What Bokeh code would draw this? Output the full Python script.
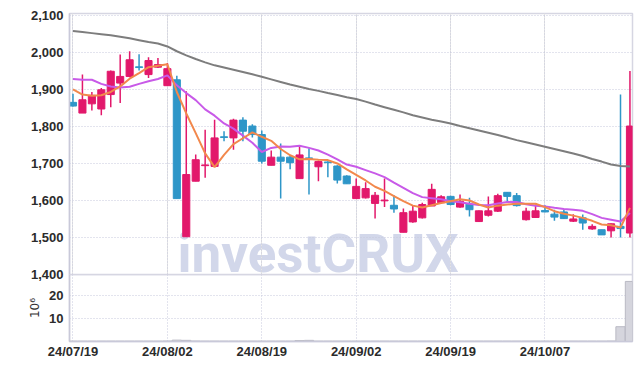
from bokeh.plotting import figure
from bokeh.layouts import column
from bokeh.models import (ColumnDataSource, Range1d, FixedTicker, NumeralTickFormatter,
                          Grid, Label)
from bokeh.embed import file_html
from bokeh.resources import INLINE

# ---------------- data ----------------
opens = [1865, 1836, 1861, 1847, 1886, 1917, 1935, 1961, 1940, 1960,
         1910, 1926, 1502, 1652, 1694, 1692, 1772, 1769, 1817, 1801,
         1778, 1695, 1717, 1717, 1659, 1715, 1691, 1704, 1693, 1666,
         1605, 1607, 1592, 1599, 1587, 1514, 1542, 1553, 1585, 1594,
         1611, 1582, 1590, 1543, 1560, 1571, 1622, 1613, 1548, 1554,
         1573, 1563, 1569, 1544, 1553, 1523, 1521, 1518, 1530, 1512]
highs = [1888, 1940, 1893, 1904, 1951, 1994, 2003, 1995, 1987, 1985,
         1971, 1937, 1895, 1724, 1791, 1818, 1787, 1821, 1825, 1806,
         1789, 1735, 1754, 1722, 1747, 1741, 1708, 1706, 1695, 1668,
         1659, 1649, 1623, 1659, 1614, 1578, 1585, 1594, 1645, 1614,
         1613, 1616, 1607, 1573, 1611, 1618, 1623, 1620, 1580, 1589,
         1587, 1575, 1575, 1563, 1562, 1536, 1521, 1538, 1886, 1950]
lows = [1854, 1836, 1843, 1830, 1852, 1863, 1933, 1951, 1931, 1958,
        1910, 1605, 1502, 1652, 1661, 1692, 1760, 1737, 1760, 1770,
        1700, 1695, 1605, 1684, 1659, 1616, 1652, 1663, 1646, 1645,
        1605, 1605, 1551, 1582, 1567, 1514, 1540, 1551, 1585, 1592,
        1587, 1580, 1557, 1542, 1557, 1569, 1593, 1584, 1546, 1553,
        1568, 1545, 1550, 1542, 1521, 1521, 1507, 1500, 1500, 1500]
closes = [1855, 1872, 1884, 1899, 1949, 1935, 1980, 1959, 1978, 1967,
          1956, 1605, 1670, 1710, 1696, 1769, 1770, 1817, 1787, 1778,
          1706, 1717, 1706, 1702, 1723, 1713, 1705, 1702, 1655, 1645,
          1638, 1632, 1614, 1601, 1577, 1567, 1571, 1589, 1630, 1610,
          1589, 1598, 1575, 1572, 1572, 1613, 1611, 1586, 1571, 1572,
          1569, 1555, 1551, 1550, 1539, 1530, 1507, 1537, 1524, 1801]
ma5 = [1900, 1886, 1883, 1884, 1893, 1908, 1929, 1944, 1960, 1964,
       1968, 1893, 1835, 1782, 1727, 1690, 1723, 1752, 1768, 1784,
       1772, 1761, 1739, 1722, 1711, 1712, 1710, 1709, 1700, 1684,
       1669, 1654, 1637, 1626, 1612, 1598, 1586, 1581, 1587, 1593,
       1598, 1603, 1600, 1589, 1581, 1586, 1589, 1591, 1591, 1591,
       1582, 1571, 1564, 1559, 1553, 1545, 1535, 1533, 1527, 1580]
ma10 = [1928, 1926, 1926, 1915, 1908, 1905, 1907, 1915, 1922, 1928,
        1938, 1911, 1890, 1871, 1846, 1829, 1808, 1794, 1775, 1756,
        1731, 1742, 1746, 1745, 1748, 1742, 1735, 1724, 1711, 1697,
        1691, 1682, 1673, 1663, 1648, 1634, 1620, 1609, 1606, 1603,
        1598, 1595, 1591, 1588, 1587, 1592, 1596, 1596, 1590, 1586,
        1584, 1580, 1577, 1575, 1572, 1563, 1553, 1548, 1543, 1566]
ma_long = [2058, 2055, 2052, 2049, 2046, 2042, 2038, 2033, 2028, 2024,
           2016, 2003, 1992, 1982, 1973, 1965, 1959, 1953, 1947, 1941,
           1934, 1927, 1920, 1913, 1907, 1901, 1896, 1890, 1885, 1879,
           1874, 1867, 1859, 1852, 1845, 1838, 1830, 1824, 1818, 1813,
           1808, 1801, 1795, 1789, 1783, 1777, 1770, 1763, 1757, 1751,
           1745, 1739, 1733, 1727, 1720, 1712, 1705, 1697, 1693, 1692]
volume = [0.15, 0.15, 0.15, 0.15, 0.15, 0.15, 0.15, 0.15, 0.15, 0.15,
          0.2, 0.6, 0.5, 0.2, 0.15, 0.15, 0.15, 0.15, 0.15, 0.15,
          0.15, 0.15, 0.15, 0.15, 0.4, 0.5, 0.15, 0.15, 0.15, 0.15,
          0.15, 0.15, 0.15, 0.15, 0.15, 0.15, 0.15, 0.15, 0.15, 0.15,
          0.15, 0.15, 0.15, 0.15, 0.15, 0.15, 0.15, 0.15, 0.15, 0.15,
          0.15, 0.15, 0.15, 0.15, 0.15, 0.15, 0.15, 0.2, 6.4, 26.0]
tick_idx = [0, 10, 20, 30, 40, 50]
tick_labels = ["24/07/19", "24/08/02", "24/08/19", "24/09/02", "24/09/19", "24/10/07"]
price_ticks = [1400, 1500, 1600, 1700, 1800, 1900, 2000, 2100]
volume_ticks = [10, 20]

# ---------------- styling ----------------
UP = "#e2186b"
DOWN = "#2e96c8"
GRID = "#c6c8dc"
AXIS = "#c9c9d9"
FONT = "Liberation Sans"

idx = list(range(len(closes)))
colors = [UP if c >= o else DOWN for o, c in zip(opens, closes)]
src = ColumnDataSource(dict(
    x=idx, o=opens, h=highs, l=lows, c=closes,
    top=[max(o, c) for o, c in zip(opens, closes)],
    bot=[min(o, c) for o, c in zip(opens, closes)],
    color=colors, ma5=ma5, ma10=ma10, mal=ma_long, vol=volume))

x_range = Range1d(-0.37, 59.27)
W = 634
OVERLAP = 9

# ---------------- price panel ----------------
p = figure(width=W, height=274 + OVERLAP, x_range=x_range, y_range=Range1d(1400, 2105),
           output_backend="svg", toolbar_location=None, x_axis_location=None,
           min_border_left=69, min_border_right=2, min_border_top=13,
           min_border_bottom=OVERLAP,
           background_fill_color="white", border_fill_color="white")
p.outline_line_color = "#d6d6e2"
p.outline_line_width = 1.5
p.yaxis.ticker = FixedTicker(ticks=price_ticks)
p.yaxis.formatter = NumeralTickFormatter(format="0,0")
p.yaxis.major_tick_out = 0
p.yaxis.major_tick_in = 0
p.yaxis.minor_tick_out = 0
p.yaxis.minor_tick_in = 0
p.yaxis.major_label_standoff = 6
p.yaxis.axis_line_color = AXIS
p.yaxis.axis_line_width = 1.5
p.yaxis.major_label_text_font = FONT
p.yaxis.major_label_text_font_style = "bold"
p.yaxis.major_label_text_font_size = "13px"
p.yaxis.major_label_text_color = "#2b2b2b"
p.ygrid.grid_line_color = GRID
p.ygrid.grid_line_dash = "1 2"
p.ygrid.ticker = FixedTicker(ticks=price_ticks)
p.add_layout(Grid(dimension=0, ticker=FixedTicker(ticks=tick_idx),
                  grid_line_color=GRID, grid_line_dash="1 2"))

wm = Label(x=108, y=21, x_units="screen", y_units="screen", text="investCRUX",
           text_font="Roboto", text_font_style="bold", text_font_size="53px",
           text_color="#d2d7ea", text_baseline="alphabetic", level="image")
p.add_layout(wm)

p.segment(x0="x", y0="l", x1="x", y1="h", color="color", line_width=1.5, source=src)
p.vbar(x="x", width=0.75, top="top", bottom="bot", fill_color="color",
       line_color="color", line_width=1, source=src)
p.line("x", "mal", source=src, color="#7d7d7d", line_width=2)
p.line("x", "ma10", source=src, color="#c85ae8", line_width=2)
p.line("x", "ma5", source=src, color="#f2884c", line_width=2)

# ---------------- volume panel ----------------
v = figure(width=W, height=89, x_range=x_range, y_range=Range1d(0, 29),
           output_backend="svg", toolbar_location=None,
           min_border_left=69, min_border_right=2, min_border_top=0, min_border_bottom=22,
           background_fill_alpha=0, border_fill_alpha=0,
           margin=(-OVERLAP, 0, 0, 0))
v.outline_line_color = "#d6d6e2"
v.outline_line_width = 1.5
v.vbar(x="x", width=0.98, top="vol", bottom=0, fill_color="#d5d5dd",
       line_color="#b9b9c3", line_width=1, source=src)
v.yaxis.ticker = FixedTicker(ticks=volume_ticks)
v.yaxis.axis_label = "10\u2076"
v.yaxis.axis_label_text_font = "DejaVu Sans"
v.yaxis.axis_label_text_font_style = "normal"
v.yaxis.axis_label_text_font_size = "12px"
v.yaxis.axis_label_text_color = "#333333"
v.yaxis.axis_label_standoff = 4
v.xaxis.ticker = FixedTicker(ticks=tick_idx)
v.xaxis.major_label_overrides = {i: s for i, s in zip(tick_idx, tick_labels)}
for ax in (v.xaxis, v.yaxis):
    ax.major_tick_out = 0
    ax.major_tick_in = 0
    ax.minor_tick_out = 0
    ax.minor_tick_in = 0
    ax.axis_line_color = AXIS
    ax.axis_line_width = 1.5
    ax.major_label_text_font = FONT
    ax.major_label_text_font_style = "bold"
    ax.major_label_text_font_size = "13px"
    ax.major_label_text_color = "#2b2b2b"
v.yaxis.major_label_standoff = 6
v.xaxis.major_label_standoff = 2
v.xgrid.ticker = FixedTicker(ticks=tick_idx)
v.ygrid.ticker = FixedTicker(ticks=volume_ticks)
for g in (v.xgrid, v.ygrid):
    g.grid_line_color = GRID
    g.grid_line_dash = "1 2"

layout = column(p, v, spacing=0)
open("out.html", "w").write(file_html(layout, INLINE))
